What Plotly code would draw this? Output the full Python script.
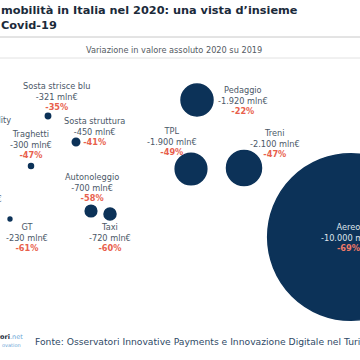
import plotly.graph_objects as go

# ---- data ----
categories = ["Sosta strisce blu", "Sosta struttura", "Traghetti", "Autonoleggio", "Taxi", "GT",
              "TPL", "Pedaggio", "Treni", "Aereo"]
loss_mln = [321, 450, 300, 700, 720, 230, 1900, 1920, 2100, 10000]
loss_labels = ["-321 mln€", "-450 mln€", "-300 mln€", "-700 mln€", "-720 mln€", "-230 mln€",
               "-1.900 mln€", "-1.920 mln€", "-2.100 mln€", "-10.000 mln€"]
pct_labels = ["-35%", "-41%", "-47%", "-58%", "-60%", "-61%", "-49%", "-22%", "-47%", "-69%"]

# ---- layout (bubble placement in the infographic, pixel space) ----
pos_x = [48, 76, 31, 91, 110, 10, 191, 197, 244, 351]
pos_y = [116, 142, 166, 211, 214, 219, 169, 100, 168, 237]
label_x = [57, 94, 31, 92, 110, 27, 172, 243, 275, 348]
label_y = [96, 131, 144, 187, 237, 237, 141, 100, 143, 237]


def px(v):
    return v / 360


def py(v):
    return 1 - v / 360


NAVY = "#0c3258"
RED = "#e8604c"
GREY = "#4b5868"
FONT = "DejaVu Sans"

fig = go.Figure()
fig.add_trace(go.Scatter(
    x=pos_x, y=pos_y, mode="markers",
    marker=dict(size=loss_mln, sizemode="diameter", sizeref=60, color=NAVY,
                line=dict(color=NAVY, width=1.5), opacity=1),
    hoverinfo="skip", showlegend=False,
))

annotations = []
for i, name in enumerate(categories):
    white = name == "Aereo"
    col = "#dfe5ec" if white else GREY
    pcol = "#f07a68" if white else RED
    annotations.append(dict(
        x=label_x[i], y=label_y[i], xref="x", yref="y",
        text=f"{name}<br>{loss_labels[i]}<br><span style='color:{pcol}'><b>{pct_labels[i]}</b></span>",
        showarrow=False, xanchor="center", yanchor="middle", align="center",
        font=dict(family=FONT, size=8.2, color=col),
    ))

# partially visible labels at left edge
annotations.append(dict(x=px(13), y=py(120), xref="paper", yref="paper",
                        text="Sharing mobility", showarrow=False, xanchor="right", yanchor="middle",
                        font=dict(family=FONT, size=8.2, color=GREY)))
annotations.append(dict(x=px(4), y=py(199), xref="paper", yref="paper",
                        text="-60 mln€", showarrow=False, xanchor="right", yanchor="middle",
                        font=dict(family=FONT, size=8.2, color=GREY)))

# title
annotations.append(dict(x=px(-1), y=py(2), xref="paper", yref="paper",
                        text="<b>mobilità in Italia nel 2020: una vista d’insieme<br>Covid-19</b>",
                        showarrow=False, xanchor="left", yanchor="top", align="left",
                        font=dict(family=FONT, size=11.3, color="#1b2a3a")))
# subtitle
annotations.append(dict(x=px(174), y=py(50), xref="paper", yref="paper",
                        text="Variazione in valore assoluto 2020 su 2019",
                        showarrow=False, xanchor="center", yanchor="middle",
                        font=dict(family=FONT, size=8.2, color="#555b63")))
# footer
annotations.append(dict(x=px(33), y=py(341), xref="paper", yref="paper",
                        text="Fonte: Osservatori Innovative Payments e Innovazione Digitale nel Turismo",
                        showarrow=False, xanchor="left", yanchor="middle",
                        font=dict(family=FONT, size=9.2, color="#2f4a66")))
annotations.append(dict(x=px(25), y=py(337), xref="paper", yref="paper",
                        text="<b>tori</b><span style='color:#6aa5d6'>.net</span>",
                        showarrow=False, xanchor="right", yanchor="middle",
                        font=dict(family=FONT, size=6.5, color="#1b2a3a")))
annotations.append(dict(x=px(23), y=py(345), xref="paper", yref="paper",
                        text="ovation", showarrow=False, xanchor="right", yanchor="middle",
                        font=dict(family=FONT, size=5, color="#6aa5d6")))

shapes = [
    dict(type="line", xref="paper", yref="paper", x0=0, x1=1, y0=py(37), y1=py(37),
         line=dict(color="#c8c8c8", width=1)),
    dict(type="line", xref="paper", yref="paper", x0=0, x1=1, y0=py(58), y1=py(58),
         line=dict(color="#e2e2e2", width=1)),
]

fig.update_layout(
    width=360, height=360, margin=dict(l=0, r=0, t=0, b=0),
    paper_bgcolor="white", plot_bgcolor="white",
    xaxis=dict(range=[0, 360], visible=False, fixedrange=True),
    yaxis=dict(range=[360, 0], visible=False, fixedrange=True),
    annotations=annotations, shapes=shapes,
)
fig.write_html("out.html", config={"displayModeBar": False, "staticPlot": True},
               post_script="document.body.style.margin='0';document.body.style.overflow='hidden';")
